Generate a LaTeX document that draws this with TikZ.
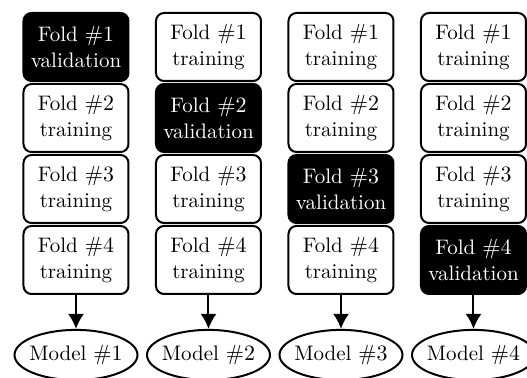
\documentclass[tikz,border=0pt]{standalone}
\usepackage{amsmath}
\usepackage{tikz}
\usetikzlibrary{arrows.meta,shapes.geometric}

\begin{document}
\begin{tikzpicture}[x=1pt,y=1pt,font=\fontsize{10.5}{12.6}\selectfont,
    fold/.style={draw,line width=1pt,rounded corners=4pt,align=center,
      minimum width=52.5pt,minimum height=34pt,inner sep=0pt},
    trainfold/.style={fold,fill=white,text=black},
    validfold/.style={fold,fill=black,text=white},
    model/.style={draw,line width=1pt,ellipse,inner xsep=-1.6pt,inner ysep=4pt},
    foldarrow/.style={line width=1pt,-{Latex[length=7.5pt,width=8pt]}}]
      \useasboundingbox (0,0) rectangle (263.5,-189);

      \foreach \m in {1,...,4} {
        \foreach \f in {1,...,4} {
          \ifnum\f=\m
            \node[validfold] (fold-\m-\f) at ({38+66.25*(\m-1)}, {-23.5-35.5*(\f-1)})
              {Fold $\#\f$\\validation};
          \else
            \node[trainfold] (fold-\m-\f) at ({38+66.25*(\m-1)}, {-23.5-35.5*(\f-1)})
              {Fold $\#\f$\\training};
          \fi
        }
        \node[model] (model-\m) at ({38+66.25*(\m-1)}, -177.5) {Model $\#\m$};
        \draw[foldarrow] (fold-\m-4) -- (model-\m);
      }
    \end{tikzpicture}
\end{document}
